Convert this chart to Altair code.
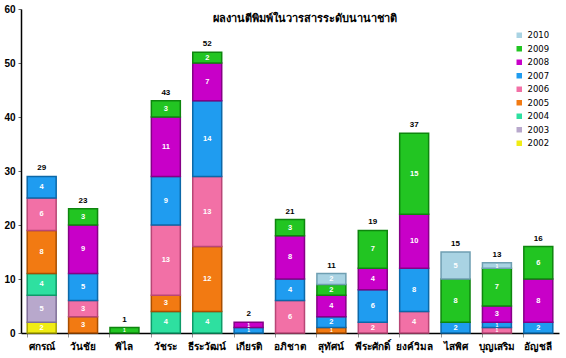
import altair as alt
import pandas as pd

names = ["ศกรณ์", "วันชัย", "พิไล", "วัชระ", "ธีระวัฒน์", "เกียรติ", "อภิชาต",
         "สุทัศน์", "พีระศักดิ์", "ยงค์วิมล", "ไสพิศ", "บุญเสริม", "อัญชลี"]
years = ["2002", "2003", "2004", "2005", "2006", "2007", "2008", "2009", "2010"]
v2002 = [2, 0, 0, 0, 0, 0, 0, 0, 0, 0, 0, 0, 0]
v2003 = [5, 0, 0, 0, 0, 0, 0, 0, 0, 0, 0, 0, 0]
v2004 = [4, 0, 0, 4, 4, 0, 0, 0, 0, 0, 0, 0, 0]
v2005 = [8, 3, 0, 3, 12, 0, 0, 1, 0, 0, 0, 0, 0]
v2006 = [6, 3, 0, 13, 13, 0, 6, 0, 2, 4, 0, 1, 0]
v2007 = [4, 5, 0, 9, 14, 1, 4, 2, 6, 8, 2, 1, 2]
v2008 = [0, 9, 0, 11, 7, 1, 8, 4, 4, 10, 0, 3, 8]
v2009 = [0, 3, 1, 3, 2, 0, 3, 2, 7, 15, 8, 7, 6]
v2010 = [0, 0, 0, 0, 0, 0, 0, 2, 0, 0, 5, 1, 0]
series = [v2002, v2003, v2004, v2005, v2006, v2007, v2008, v2009, v2010]

fills = ["#f0ec14", "#b8a8cc", "#2ee0a0", "#f27a12", "#f270a6",
         "#1f9cf0", "#c800c8", "#22c522", "#a9d3e3"]
strokes = ["#a8a500", "#7f6f98", "#0e9a68", "#a84e00", "#b84676",
           "#0c68a8", "#860086", "#0e850e", "#6f9fb2"]

rows = []
for yi, (yr, vals) in enumerate(zip(years, series)):
    for n, v in zip(names, vals):
        if v > 0:
            rows.append({"name": n, "year": yr, "yn": yi, "value": v})
df = pd.DataFrame(rows)

rev_years = years[::-1]
x = alt.X("name:N", sort=names, title=None,
          scale=alt.Scale(paddingInner=0.3, paddingOuter=0.15),
          axis=alt.Axis(labelAngle=0, labelFontWeight="bold", labelFontSize=10,
                        labelColor="#000", domainColor="#000", domainWidth=1.5,
                        tickColor="#999", tickSize=4, bandPosition=0,
                        labelPadding=4))

base = alt.Chart(df)

bars = base.mark_bar(strokeWidth=1.5).encode(
    x=x,
    y=alt.Y("sum(value):Q", title=None,
            scale=alt.Scale(domain=[0, 60], nice=False),
            axis=alt.Axis(values=[0, 10, 20, 30, 40, 50, 60], grid=False,
                          labelFontWeight="bold", labelFontSize=10, labelColor="#000",
                          domainColor="#000", domainWidth=1.5, tickColor="#666",
                          tickSize=3, labelPadding=3)),
    color=alt.Color("year:N", scale=alt.Scale(domain=years, range=fills),
                    sort=rev_years,
                    legend=alt.Legend(title=None, orient="none", legendX=494, legendY=22,
                                      symbolType="square", symbolSize=30,
                                      symbolStrokeWidth=0, labelFontSize=8.5,
                                      labelFont="DejaVu Sans", rowPadding=4.5,
                                      values=rev_years, labelColor="#000")),
    stroke=alt.Stroke("year:N", scale=alt.Scale(domain=years, range=strokes), legend=None),
    order=alt.Order("yn:Q", sort="ascending"),
)

labels = base.transform_stack(
    stack="value", groupby=["name"], as_=["v0", "v1"],
    sort=[alt.SortField("yn", order="ascending")]
).transform_calculate(mid="(datum.v0 + datum.v1) / 2").mark_text(
    color="white", fontWeight="bold", baseline="middle"
).encode(
    x=x, y=alt.Y("mid:Q"), text="value:Q",
    size=alt.condition("datum.value <= 1", alt.value(5), alt.value(7.5)),
)

totals = base.mark_text(
    color="#000", fontWeight="bold", fontSize=8, baseline="bottom", dy=-4
).encode(x=x, y=alt.Y("sum(value):Q"), text="sum(value):Q")

chart = alt.layer(bars, labels, totals).properties(
    width=538, height=324,
    title=alt.TitleParams("ผลงานตีพิมพ์ในวารสารระดับนานาชาติ", fontSize=11,
                          fontWeight="bold", anchor="middle", dx=15, dy=24,
                          color="#000"),
    autosize=alt.AutoSizeParams(type="none"),
    padding={"left": 21, "top": 9, "right": 7, "bottom": 25},
).configure_view(stroke=None)

chart.save("out.html", embed_options={"renderer": "svg", "actions": False})
